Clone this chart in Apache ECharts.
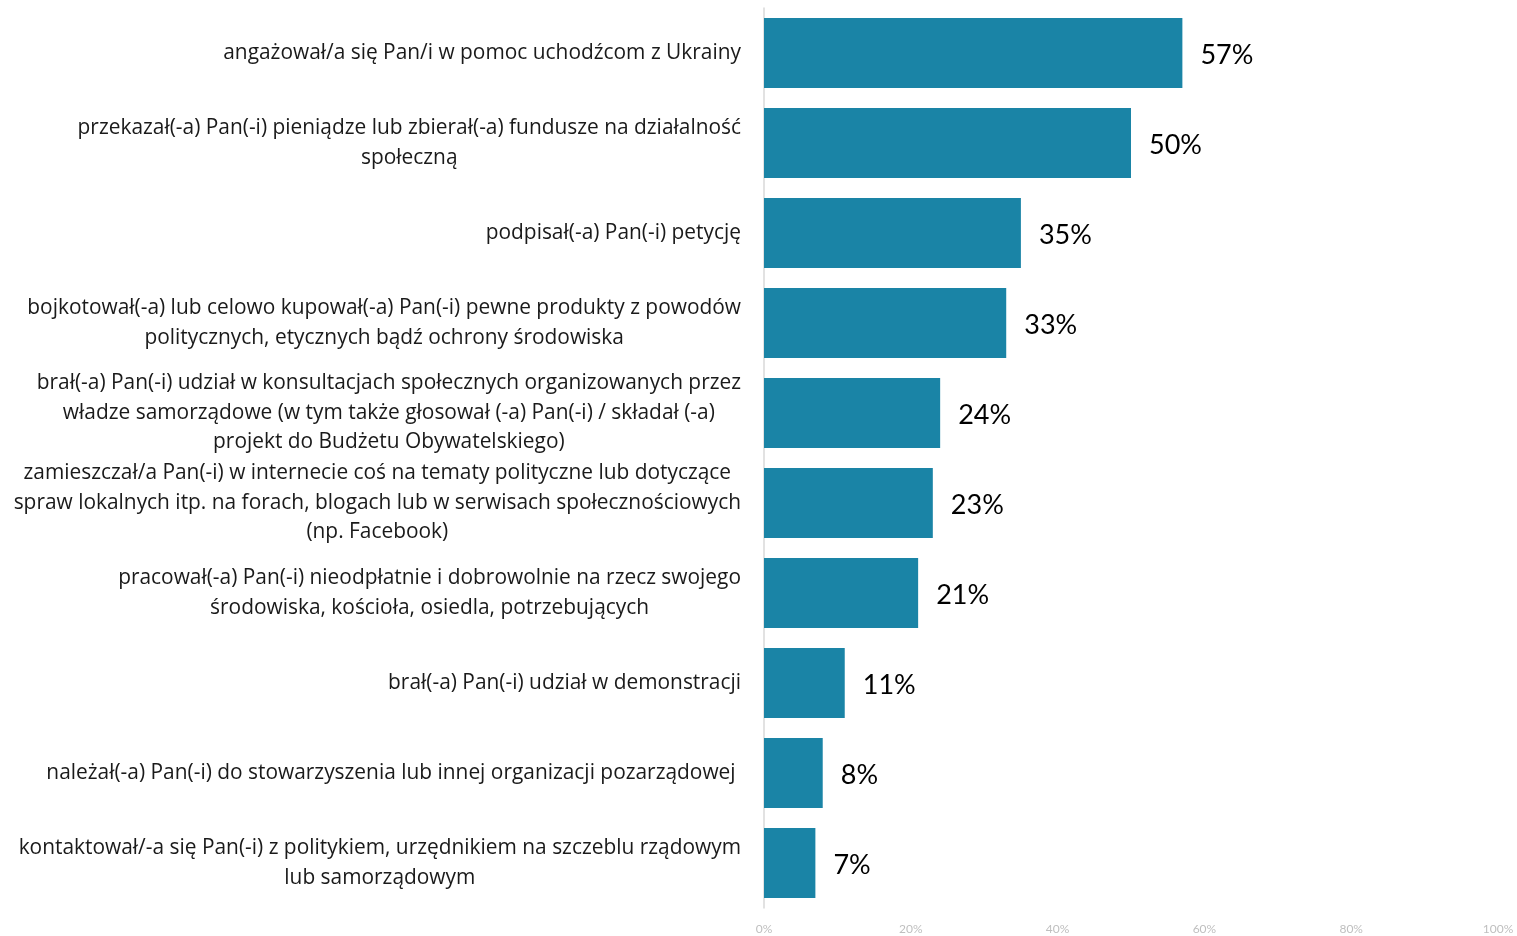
<!DOCTYPE html>
<html>
<head>
<meta charset="utf-8">
<script src="https://cdn.jsdelivr.net/npm/echarts@6/dist/echarts.min.js"></script>
<style>
  html, body { margin: 0; padding: 0; background: #fff; }
  #chart { width: 1517px; height: 936px; }
</style>
</head>
<body>
<div id="chart"></div>
<script>
// kategorie (podział na linie jak w oryginale)
var categories = [
  'angażował/a się Pan/i w pomoc uchodźcom z Ukrainy',
  'przekazał(-a) Pan(-i) pieniądze lub zbierał(-a) fundusze na działalność\nspołeczną',
  'podpisał(-a) Pan(-i) petycję',
  'bojkotował(-a) lub celowo kupował(-a) Pan(-i) pewne produkty z powodów\npolitycznych, etycznych bądź ochrony środowiska',
  'brał(-a) Pan(-i) udział w konsultacjach społecznych organizowanych przez\nwładze samorządowe (w tym także głosował (-a) Pan(-i) / składał (-a)\nprojekt do Budżetu Obywatelskiego)',
  'zamieszczał/a Pan(-i) w internecie coś na tematy polityczne lub dotyczące\nspraw lokalnych itp. na forach, blogach lub w serwisach społecznościowych\n(np. Facebook)',
  'pracował(-a) Pan(-i) nieodpłatnie i dobrowolnie na rzecz swojego\nśrodowiska, kościoła, osiedla, potrzebujących',
  'brał(-a) Pan(-i) udział w demonstracji',
  'należał(-a) Pan(-i) do stowarzyszenia lub innej organizacji pozarządowej ',
  'kontaktował/-a się Pan(-i) z politykiem, urzędnikiem na szczeblu rządowym\nlub samorządowym'
];
var values = [57, 50, 35, 33, 24, 23, 21, 11, 8, 7];
var xTicks = [0, 20, 40, 60, 80, 100];

var chart = echarts.init(document.getElementById('chart'));
chart.setOption({
  animation: false,
  grid: { left: 764, right: 19, top: 8, bottom: 28, containLabel: false },
  xAxis: {
    type: 'value',
    min: xTicks[0],
    max: xTicks[xTicks.length - 1],
    interval: xTicks[1] - xTicks[0],
    splitLine: { show: false },
    axisLine: { show: false },
    axisTick: { show: false },
    axisLabel: {
      formatter: '{value}%',
      color: '#bfbfbf',
      fontSize: 12,
      fontFamily: 'Lato',
      margin: 15
    }
  },
  yAxis: {
    type: 'category',
    inverse: true,
    data: categories,
    axisLine: { lineStyle: { color: '#d9d9d9', width: 1.5 } },
    axisTick: { length: 7, lineStyle: { color: '#d9d9d9', width: 1.5 } },
    axisLabel: {
      margin: 23,
      formatter: function (v) {
        return v.split('\n').map(function (l) { return '{c|' + l + '}'; }).join('\n');
      },
      rich: {
        c: {
          align: 'center',
          color: '#1a1a1a',
          fontSize: 20.9,
          lineHeight: 29.5,
          fontFamily: 'Open Sans'
        }
      }
    }
  },
  series: [{
    type: 'bar',
    data: values,
    barCategoryGap: '22%',
    itemStyle: { color: '#1A84A6' },
    label: {
      show: true,
      position: 'right',
      distance: 18,
      offset: [0, 2],
      formatter: '{c}%',
      color: '#000',
      fontSize: 27,
      fontFamily: 'Lato'
    }
  }]
});
</script>
</body>
</html>
